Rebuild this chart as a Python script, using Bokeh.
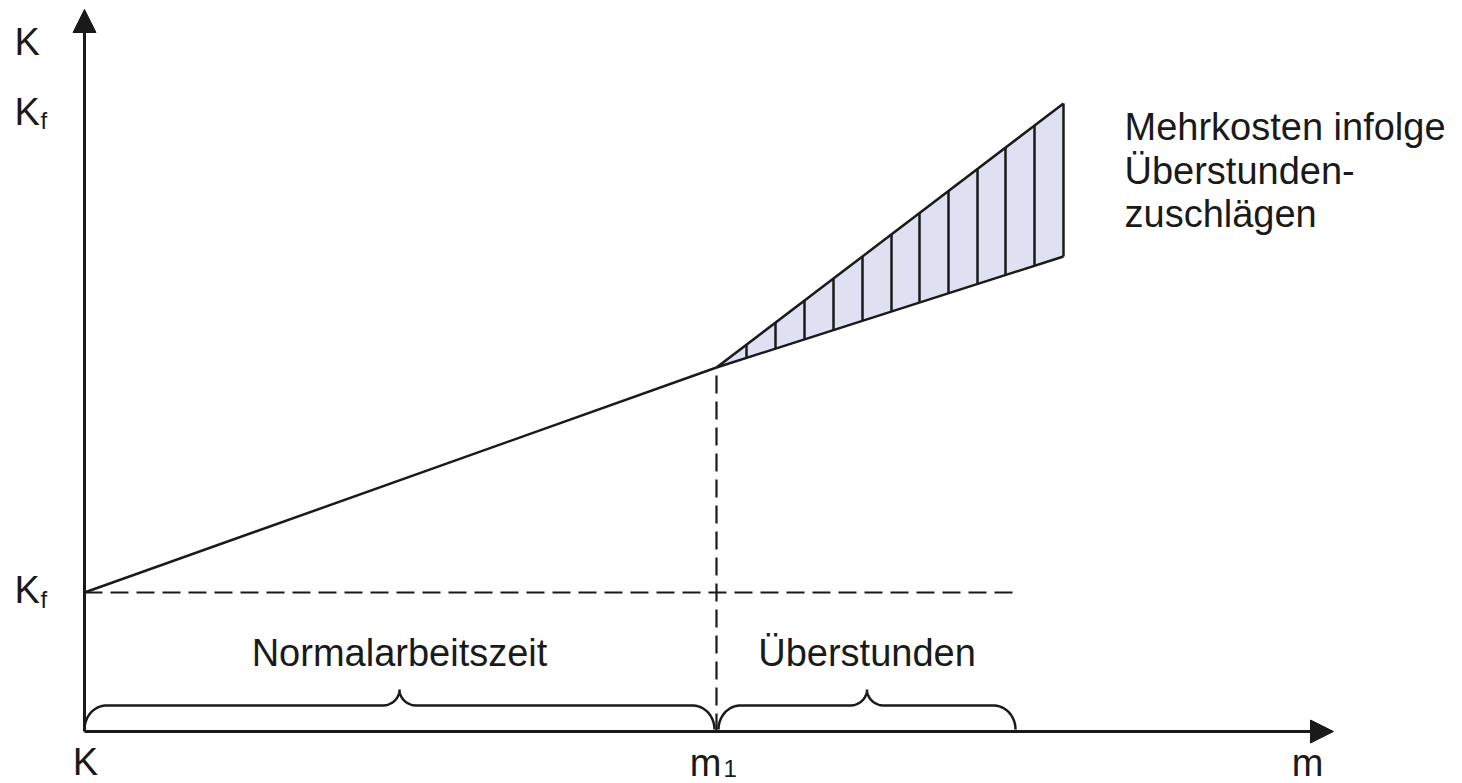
import numpy as np
from bokeh.plotting import figure
from bokeh.models import Range1d, Arrow, NormalHead
from bokeh.core.properties import value
from bokeh.embed import file_html
from bokeh.resources import INLINE

# ---- data (units: quantity m on x, cost K on y) ----
Kf = 139                      # fixed costs
m1 = 632                      # end of normal working time
base_m = [0, 632]             # cost line during normal working time
base_K = [139, 364]
over_m = [632, 979]           # overtime range
over_upper = [364, 628]       # cost with overtime surcharges
over_lower = [364, 475]       # cost without surcharges
hatch_m = [662, 691, 720, 749, 778, 807, 835, 864, 893, 921, 950, 979]
kf_dash_end = 932
brace_start = [0, 634]
brace_end = [630, 931]
brace_labels = ["Normalarbeitszeit", "Überstunden"]
x_axis_end = 1249
y_axis_end = 722
note_lines = ["Mehrkosten infolge", "Überstunden-", "zuschlägen"]

INK = "#1a1a1a"
FONT = value("Liberation Sans")
BIG_SHIFT = 14     # baseline correction for 38px text
SMALL_SHIFT = 9    # baseline correction for 24px text

p = figure(width=1462, height=783, x_range=Range1d(-84, 1378), y_range=Range1d(-52, 731),
           output_backend="svg", toolbar_location=None, min_border=0,
           x_axis_location=None, y_axis_location=None)
p.grid.visible = False
p.outline_line_color = None
p.background_fill_color = "white"
p.border_fill_color = "white"

# shaded area for overtime surcharges
p.varea(x=over_m, y1=over_lower, y2=over_upper, fill_color="#dfe1f3")
# hatch lines
hu = np.interp(hatch_m, over_m, over_upper)
hl = np.interp(hatch_m, over_m, over_lower)
p.segment(x0=hatch_m, y0=hl, x1=hatch_m, y1=hu, line_color=INK, line_width=2.5)

# cost lines
p.line(base_m, base_K, line_color=INK, line_width=2.5)
p.line(over_m, over_upper, line_color=INK, line_width=2.5)
p.line(over_m, over_lower, line_color=INK, line_width=2.5)

# dashed guides
p.line([0, kf_dash_end], [Kf, Kf], line_color=INK, line_width=2.2, line_dash="18 8")
p.line([m1, m1], [0, base_K[-1]], line_color=INK, line_width=2.2, line_dash="18 8")

# axes with arrows
p.add_layout(Arrow(end=NormalHead(size=23, fill_color=INK, line_color=INK),
                   x_start=0, y_start=0, x_end=x_axis_end, y_end=0,
                   line_color=INK, line_width=3))
p.add_layout(Arrow(end=NormalHead(size=23, fill_color=INK, line_color=INK),
                   x_start=0, y_start=0, x_end=0, y_end=y_axis_end,
                   line_color=INK, line_width=3))

# braces
def brace(x0, x1, y_bot=2, y_top=26, y_tip=42, rx=22, tx=17):
    xm = (x0 + x1) / 2
    t = np.linspace(0, np.pi / 2, 24)
    lx = x0 + rx - rx * np.cos(t)
    ly = y_bot + (y_top - y_bot) * np.sin(t)
    tx_ = xm - tx + tx * np.sin(t)
    ty_ = y_tip - (y_tip - y_top) * np.cos(t)
    hx = np.concatenate([lx, tx_])
    hy = np.concatenate([ly, ty_])
    fx = np.concatenate([hx, (2 * xm - hx)[::-1]])
    fy = np.concatenate([hy, hy[::-1]])
    return fx, fy

for s, e in zip(brace_start, brace_end):
    bx, by_ = brace(s, e)
    p.line(bx, by_, line_color=INK, line_width=2.5)

big = dict(text_font=FONT, text_font_size="38px", text_color=INK, text_baseline="alphabetic")
small = dict(text_font=FONT, text_font_size="24px", text_color=INK, text_baseline="alphabetic")

def by(vals, shift):
    return [v + shift for v in vals]

# brace labels
p.text(x=[(s + e) / 2 for s, e in zip(brace_start, brace_end)], y=by([65, 65], BIG_SHIFT),
       text=brace_labels, text_align="center", **big)

# axis labels
p.text(x=[-70, -70, -70], y=by([676, 606, 128], BIG_SHIFT), text=["K", "K", "K"],
       text_align="left", **big)
p.text(x=[-44, -44], y=by([602, 123], SMALL_SHIFT), text=["f", "f"], text_align="left", **small)
p.text(x=[1, m1 - 11, 1223], y=by([-44, -45, -45], BIG_SHIFT), text=["K", "m", "m"],
       text_align="center", **big)
p.text(x=[m1 + 7], y=by([-46], SMALL_SHIFT), text=["1"], text_align="left", **small)

# note
p.text(x=[1040] * 3, y=by([591, 547, 504], BIG_SHIFT), text=note_lines, text_align="left", **big)

open("out.html", "w").write(file_html(p, INLINE))
